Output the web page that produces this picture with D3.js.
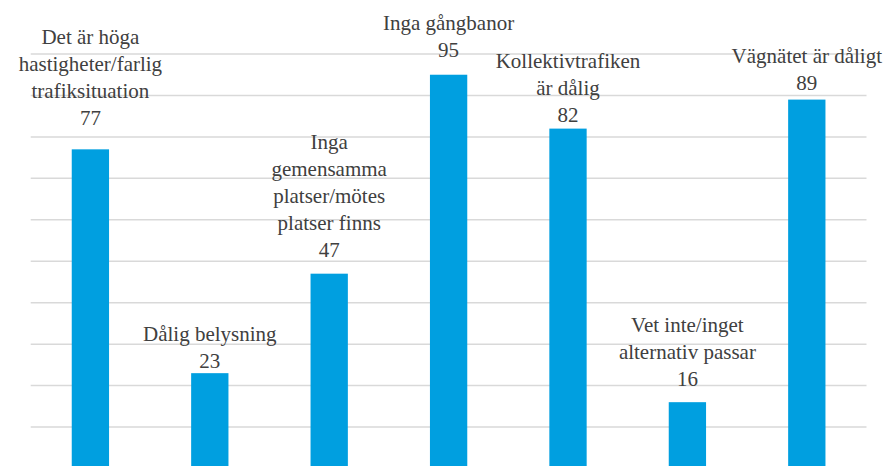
<!DOCTYPE html>
<html>
<head>
<meta charset="utf-8">
<script src="https://cdn.jsdelivr.net/npm/d3@7"></script>
</head>
<body style="margin:0">
<svg id="chart" width="885" height="466" style="font-family: 'Liberation Serif';"></svg>
<script>
// ---- data ----
const categories = [
  ["Det är höga", "hastigheter/farlig", "trafiksituation"],
  ["Dålig belysning"],
  ["Inga", "gemensamma", "platser/mötes", "platser finns"],
  ["Inga gångbanor"],
  ["Kollektivtrafiken", "är dålig"],
  ["Vet inte/inget", "alternativ passar"],
  ["Vägnätet är dåligt"]
];
const values = [77, 23, 47, 95, 82, 16, 89];
const gridTicks = [10, 20, 30, 40, 50, 60, 70, 80, 90, 100];

// ---- layout (label lift above bar top, px) ----
const labelLift = [24, 5, 17, 18, 7, 16, 10];
const lineHeight = 27;
const W = 885;

const svg = d3.select("#chart");
const x = d3.scaleBand().domain(d3.range(values.length)).range([30.7, 866.5])
  .paddingInner(0.6875).paddingOuter(0.34375);
const y = d3.scaleLinear().domain([0, 100]).range([468.5, 54]);

// gridlines
svg.selectAll("line.grid").data(gridTicks).join("line")
  .attr("class", "grid")
  .attr("x1", 30.7).attr("x2", 866.5)
  .attr("y1", d => y(d)).attr("y2", d => y(d))
  .attr("stroke", "#d9d9d9").attr("stroke-width", 1.5);

// bars
svg.selectAll("rect.bar").data(values).join("rect")
  .attr("class", "bar")
  .attr("x", (d, i) => x(i))
  .attr("y", d => y(d))
  .attr("width", x.bandwidth())
  .attr("height", d => y(0) - y(d))
  .attr("fill", "#009fe0");

// labels
function addText(str, cx, yy) {
  const t = svg.append("text")
    .style("font-family", '"Liberation Serif"')
    .style("font-size", "21px")
    .style("fill", "#404040")
    .style("text-anchor", "middle")
    .attr("x", cx).attr("y", yy).text(str);
  const w = t.node().getComputedTextLength();
  if (cx + w / 2 > W - 1) t.attr("x", W - 1 - w / 2);
}

values.forEach((v, i) => {
  const cx = x(i) + x.bandwidth() / 2;
  const base = y(v) - labelLift[i];
  addText(String(v), cx, base);
  const lines = categories[i];
  lines.forEach((ln, j) => addText(ln, cx, base - (lines.length - j) * lineHeight));
});
</script>
</body>
</html>
